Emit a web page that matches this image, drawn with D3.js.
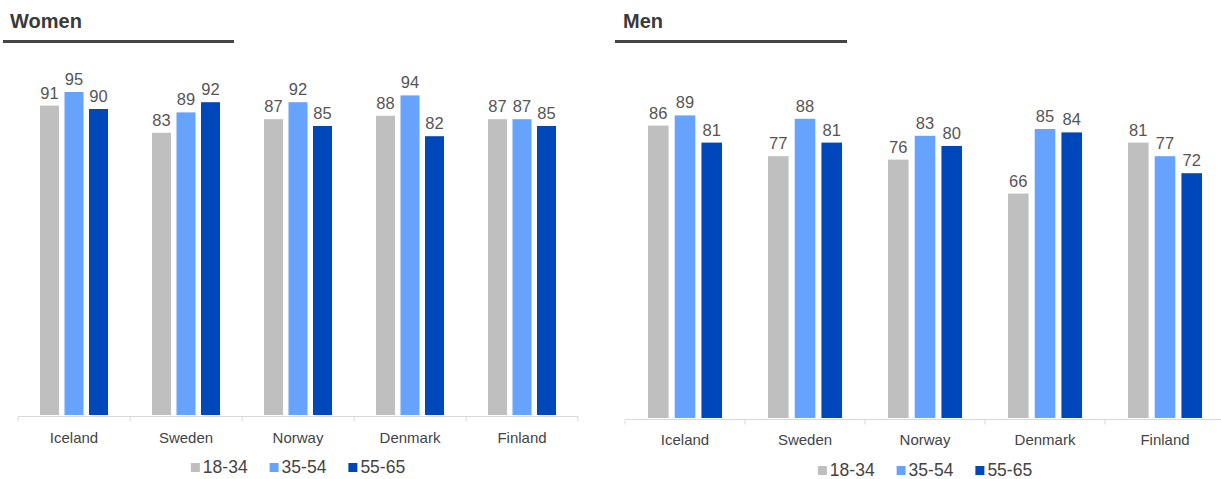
<!DOCTYPE html>
<html>
<head>
<meta charset="utf-8">
<script src="https://cdn.jsdelivr.net/npm/d3@7"></script>
<style>
  html, body { margin: 0; padding: 0; background: #fff; }
  svg { display: block; font-family: "Liberation Sans", Arial, sans-serif; }
</style>
</head>
<body>
<svg id="chart" width="1221" height="479"></svg>
<script>
// Countries along the x axis
const countries = ["Iceland", "Sweden", "Norway", "Denmark", "Finland"];
// Age groups (series)
const ageGroups = ["18-34", "35-54", "55-65"];
const seriesColors = ["#bfbfbf", "#66a3ff", "#0047bb"];

// Share (%) by country, one array per age group
const women18_34 = [91, 83, 87, 88, 87];
const women35_54 = [95, 89, 92, 94, 87];
const women55_65 = [90, 92, 85, 82, 85];

const men18_34 = [86, 77, 76, 66, 81];
const men35_54 = [89, 88, 83, 85, 77];
const men55_65 = [81, 81, 80, 84, 72];

const panels = [
  {
    title: "Women",
    series: [women18_34, women35_54, women55_65],
    x0: 18, x1: 578, base: 415,
    titleX: 10, ruleX: [3, 234],
    groupPad: 0.393, barPad: 0.224,
    catY: 443, legendY: 473
  },
  {
    title: "Men",
    series: [men18_34, men35_54, men55_65],
    x0: 625, x1: 1225, base: 418,
    titleX: 623, ruleX: [615, 847],
    groupPad: 0.383, barPad: 0.23,
    catY: 445, legendY: 476
  }
];

const svg = d3.select("#chart");

panels.forEach(p => {
  const g = svg.append("g");

  // Panel heading with a rule underneath
  g.append("text")
    .attr("x", p.titleX).attr("y", 28)
    .attr("font-size", 20).attr("font-weight", "bold")
    .attr("fill", "#3a3a3a")
    .text(p.title);
  g.append("line")
    .attr("x1", p.ruleX[0]).attr("x2", p.ruleX[1])
    .attr("y1", 41.5).attr("y2", 41.5)
    .attr("stroke", "#444").attr("stroke-width", 3);

  const x = d3.scaleBand()
    .domain(countries)
    .range([p.x0, p.x1])
    .paddingInner(p.groupPad)
    .paddingOuter(p.groupPad / 2);

  const xs = d3.scaleBand()
    .domain(ageGroups)
    .range([0, x.bandwidth()])
    .paddingInner(p.barPad);

  const y = d3.scaleLinear()
    .domain([0, 100])
    .range([p.base, p.base - 340]);

  // Category axis: baseline with boundary ticks
  const axisY = p.base + 1.5;
  g.append("line")
    .attr("x1", p.x0).attr("x2", p.x1)
    .attr("y1", axisY).attr("y2", axisY)
    .attr("stroke", "#d9d9d9").attr("stroke-width", 1);
  d3.range(countries.length + 1).forEach(i => {
    const bx = p.x0 + i * x.step();
    g.append("line")
      .attr("x1", bx).attr("x2", bx)
      .attr("y1", axisY).attr("y2", axisY + 5)
      .attr("stroke", "#d9d9d9").attr("stroke-width", 1);
  });

  g.selectAll("text.cat")
    .data(countries)
    .join("text")
    .attr("class", "cat")
    .attr("x", d => x(d) + x.bandwidth() / 2)
    .attr("y", p.catY)
    .attr("text-anchor", "middle")
    .attr("font-size", 15)
    .attr("fill", "#444")
    .text(d => d);

  // Bars and value labels
  const rows = [];
  countries.forEach((c, ci) => {
    ageGroups.forEach((a, si) => {
      rows.push({ country: c, group: a, si, value: p.series[si][ci] });
    });
  });

  g.selectAll("rect.bar")
    .data(rows)
    .join("rect")
    .attr("class", "bar")
    .attr("x", d => x(d.country) + xs(d.group))
    .attr("width", xs.bandwidth())
    .attr("y", d => y(d.value))
    .attr("height", d => y(0) - y(d.value))
    .attr("fill", d => seriesColors[d.si]);

  g.selectAll("text.val")
    .data(rows)
    .join("text")
    .attr("class", "val")
    .attr("x", d => x(d.country) + xs(d.group) + xs.bandwidth() / 2)
    .attr("y", d => y(d.value) - 7)
    .attr("text-anchor", "middle")
    .attr("font-size", 16.5)
    .attr("fill", "#555")
    .text(d => d.value);

  // Legend, centred under the panel
  const leg = g.append("g");
  let cx = 0;
  ageGroups.forEach((a, i) => {
    const item = leg.append("g").attr("transform", `translate(${cx},0)`);
    item.append("rect")
      .attr("x", 0).attr("y", -10)
      .attr("width", 9).attr("height", 9)
      .attr("fill", seriesColors[i]);
    const t = item.append("text")
      .attr("x", 12).attr("y", 0)
      .attr("font-size", 17.5)
      .attr("fill", "#444")
      .text(a);
    cx += 12 + t.node().getComputedTextLength() + 22;
  });
  const legW = cx - 22;
  leg.attr("transform", `translate(${(p.x0 + p.x1) / 2 - legW / 2},${p.legendY})`);
});
</script>
</body>
</html>
